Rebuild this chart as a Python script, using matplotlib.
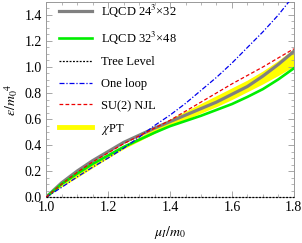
import numpy as np
import matplotlib
matplotlib.use("Agg")
import matplotlib.pyplot as plt
from matplotlib.ticker import MultipleLocator

mu = [1.0, 1.05, 1.1, 1.15, 1.2, 1.25, 1.3, 1.35, 1.4, 1.45, 1.5, 1.55, 1.6, 1.65, 1.7, 1.75, 1.8]
lqcd24 = [0, 0.11, 0.20, 0.28, 0.35, 0.42, 0.475, 0.53, 0.58, 0.63, 0.68, 0.73, 0.79, 0.85, 0.93, 1.02, 1.12]
lqcd32 = [0, 0.10, 0.18, 0.255, 0.32, 0.385, 0.44, 0.495, 0.545, 0.585, 0.625, 0.67, 0.715, 0.77, 0.83, 0.905, 0.99]
tree = [0]*len(mu)
oneloop = [0, 0.075, 0.155, 0.23, 0.30, 0.375, 0.46, 0.55, 0.63, 0.72, 0.82, 0.92, 1.03, 1.15, 1.27, 1.40, 1.55]
njl = [0, 0.10, 0.19, 0.27, 0.34, 0.41, 0.47, 0.53, 0.59, 0.66, 0.73, 0.80, 0.87, 0.935, 1.00, 1.07, 1.14]
chpt_lo = [0, 0.08, 0.15, 0.225, 0.30, 0.37, 0.43, 0.49, 0.55, 0.595, 0.645, 0.695, 0.75, 0.81, 0.87, 0.935, 1.005]
chpt_hi = [0, 0.095, 0.18, 0.255, 0.33, 0.40, 0.46, 0.53, 0.60, 0.66, 0.72, 0.78, 0.84, 0.90, 0.97, 1.05, 1.14]

labels = ["LQCD 24$^3$\u00d732", "LQCD 32$^3$\u00d748", "Tree Level", "One loop", "SU(2) NJL", "$\\chi$PT"]

plt.rcParams['font.family'] = ['Liberation Serif', 'DejaVu Serif']
plt.rcParams['mathtext.fontset'] = 'stix'

fig = plt.figure(figsize=(3.02, 2.43), dpi=100)
ax = fig.add_axes([0.153, 0.189, 0.820, 0.803])

ax.fill_between(mu, chpt_lo, chpt_hi, color='#ffff00', lw=0, zorder=1)
l1, = ax.plot(mu, lqcd24, color='#808080', lw=2.3, zorder=2, label=labels[0])
l2, = ax.plot(mu, lqcd32, color='#00ee00', lw=1.9, zorder=2, label=labels[1])
l3, = ax.plot(mu, tree, color='black', lw=0.9, ls=(0, (1.5, 1.2)), zorder=4, clip_on=False, label=labels[2])
l4, = ax.plot(mu, oneloop, color='#0000ee', lw=0.9, ls=(0, (4, 1.5, 1, 1.5)), zorder=3, label=labels[3])
l5, = ax.plot(mu, njl, color='#ee0000', lw=0.9, ls=(0, (3, 1.8)), zorder=3, label=labels[4])
l6, = ax.plot([], [], color='#ffff00', lw=3.5, label=labels[5])

ax.set_xlim(1.0, 1.8)
ax.set_ylim(0, 1.5)
ax.xaxis.set_major_locator(MultipleLocator(0.2))
ax.xaxis.set_minor_locator(MultipleLocator(0.05))
ax.yaxis.set_major_locator(MultipleLocator(0.2))
ax.yaxis.set_minor_locator(MultipleLocator(0.05))
ax.xaxis.set_major_formatter(matplotlib.ticker.FormatStrFormatter('%.1f'))
ax.yaxis.set_major_formatter(matplotlib.ticker.FormatStrFormatter('%.1f'))
ax.tick_params(which='both', direction='in', top=True, right=True, color='#999999', labelsize=10, pad=3)
ax.tick_params(which='major', length=4, width=0.6)
ax.tick_params(which='minor', length=2, width=0.5)
for s in ax.spines.values():
    s.set_color('#999999')
    s.set_linewidth(0.7)

ax.set_xlabel('$\\mu_I/m_0$', fontsize=10, labelpad=7)
ax.set_ylabel('$\\epsilon/m_0{}^4$', fontsize=10, labelpad=3)

leg = ax.legend(handles=[l1, l2, l3, l4, l5, l6], loc='upper left', bbox_to_anchor=(0.02, 1.035),
                frameon=False, fontsize=9, handlelength=2.7, handletextpad=0.65, labelspacing=0.78,
                borderaxespad=0.2)

fig.savefig('out.png', dpi=100)
